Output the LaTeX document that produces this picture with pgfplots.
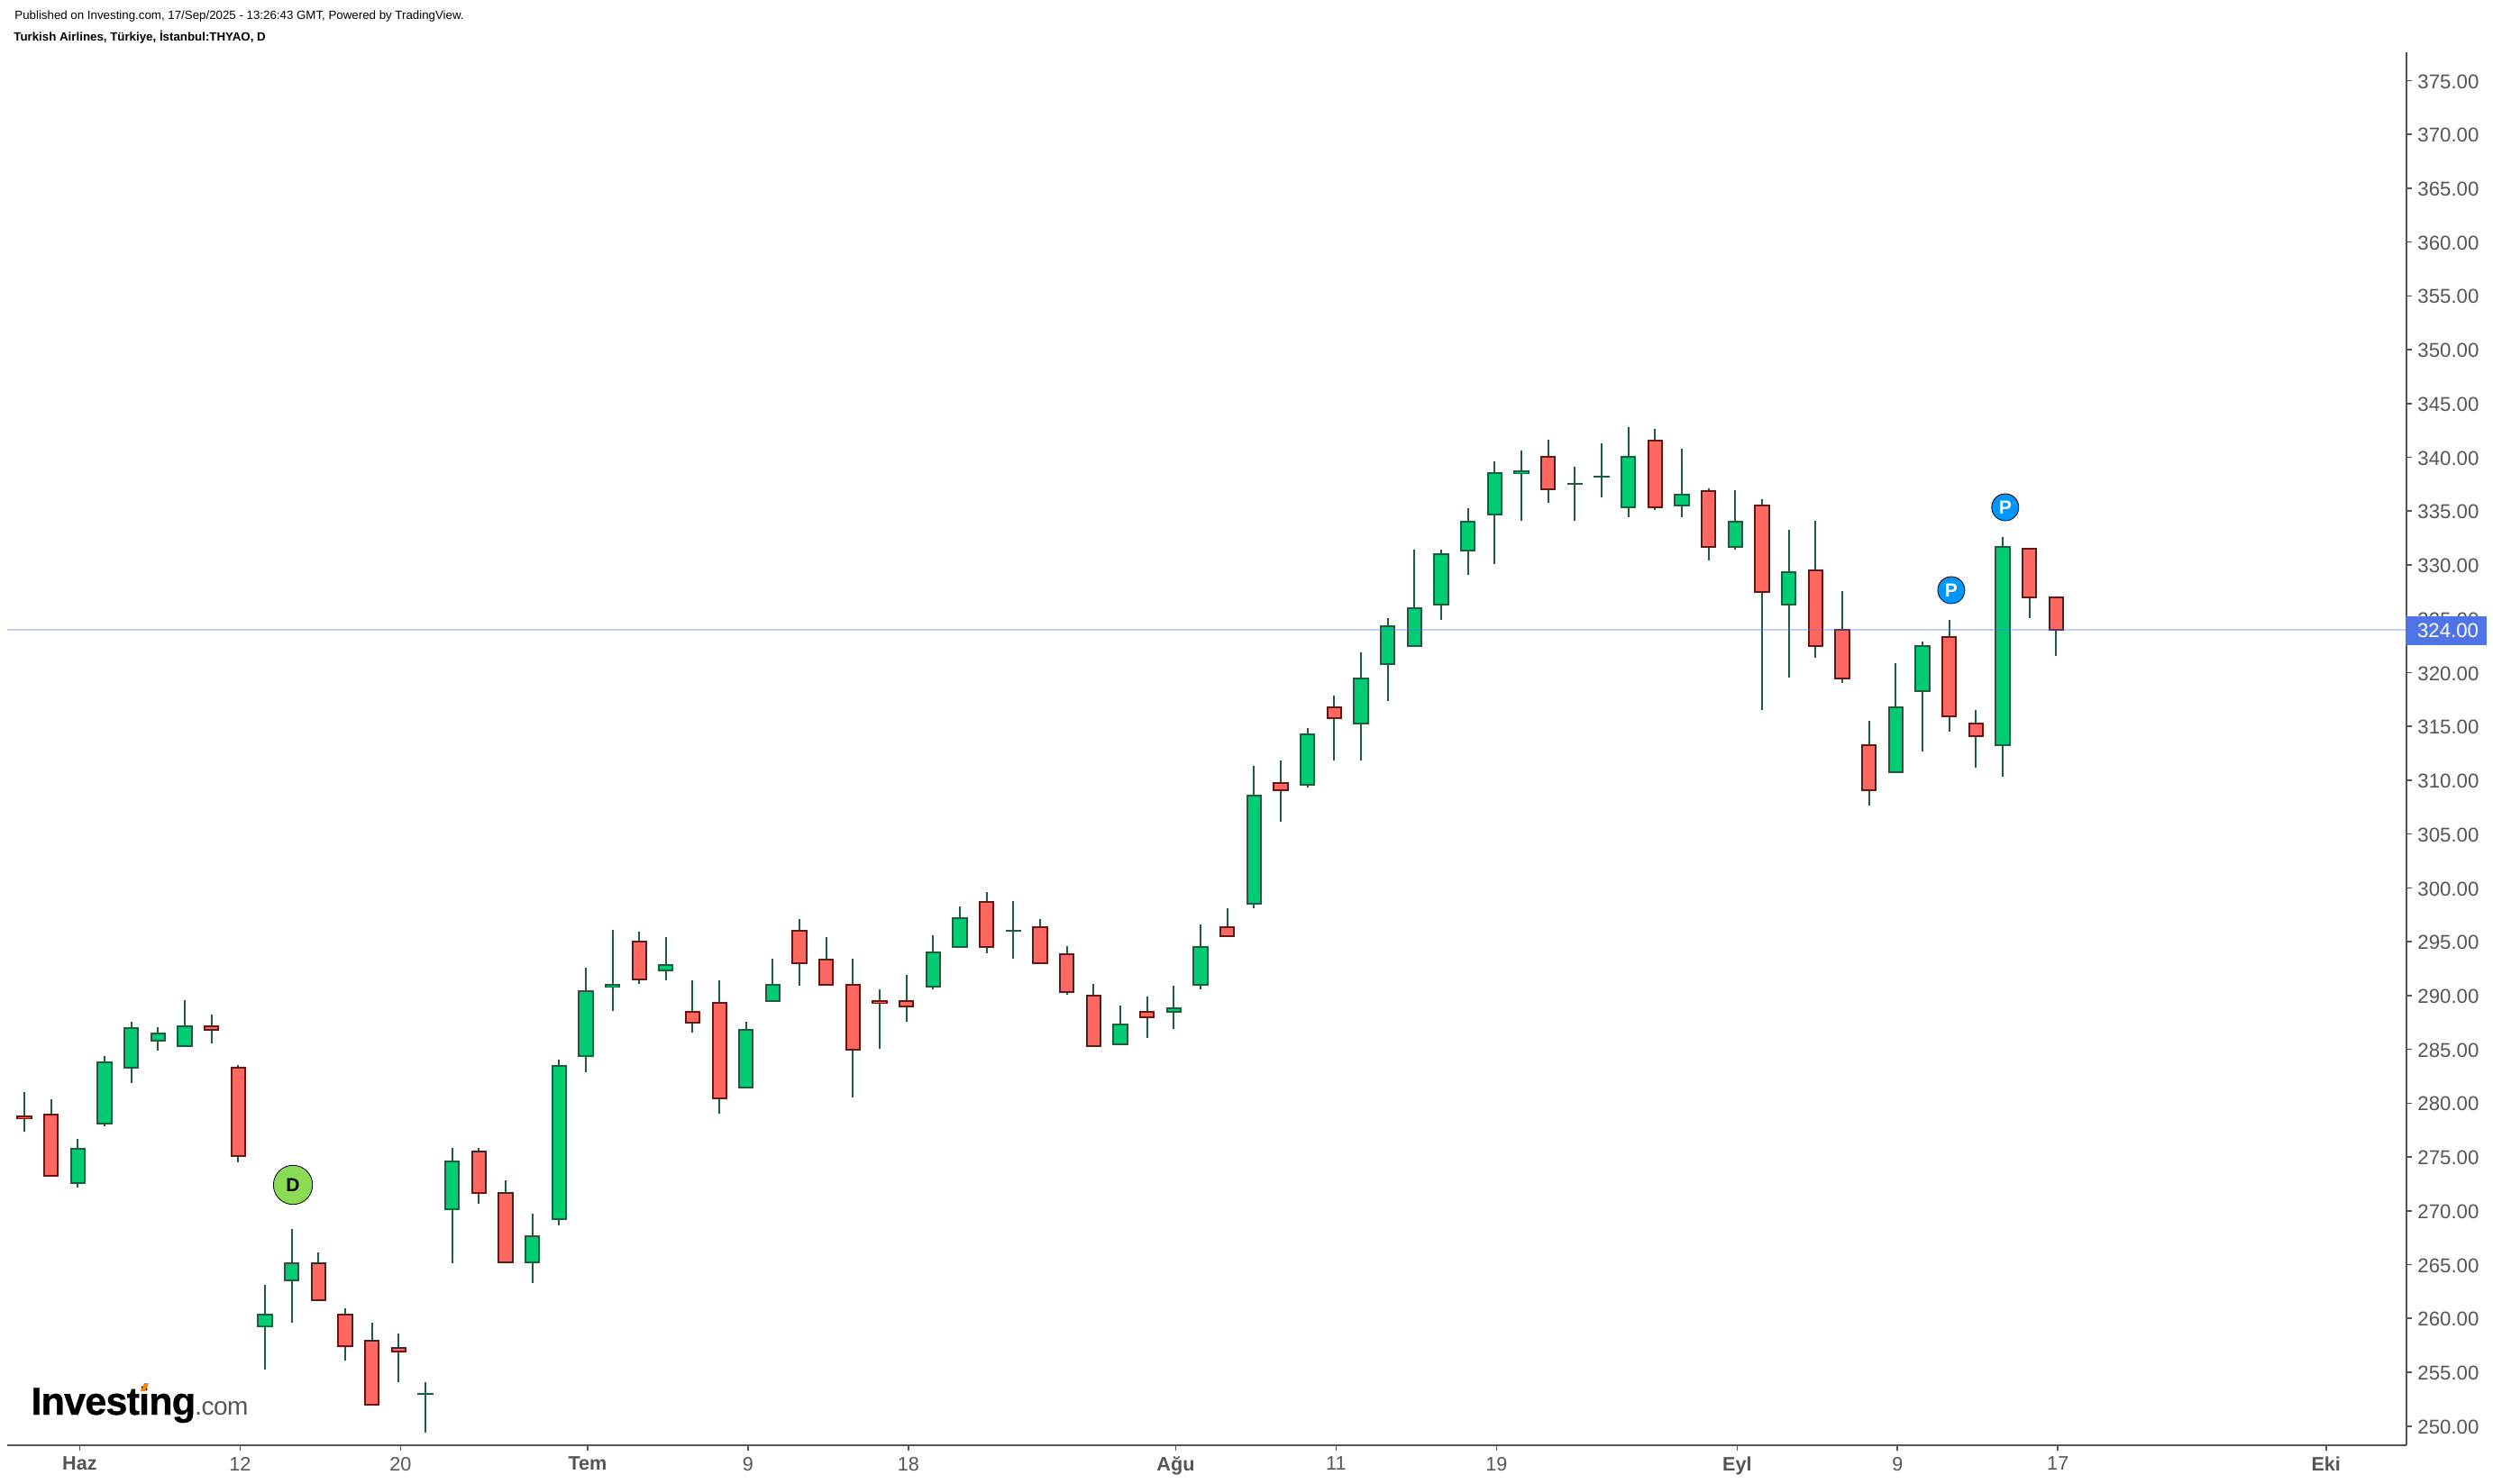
\documentclass[border=0pt]{standalone}
\usepackage{pgfplots}
\usepackage{pgfplotstable}
\pgfplotsset{compat=1.18}
\usepackage{fontspec}
\setmainfont{Liberation Sans}
\newfontfamily\logofont[LetterSpace=-2,BoldFeatures={FakeBold=0.7}]{Liberation Sans}
\definecolor{upfill}{HTML}{00CC74}
\definecolor{upline}{HTML}{1F5C3E}
\definecolor{downfill}{HTML}{FF6861}
\definecolor{downline}{HTML}{5E1A17}
\definecolor{axisgrey}{HTML}{555555}
\definecolor{pricebox}{HTML}{4F74E8}
\definecolor{dgreen}{HTML}{8BDB55}
\definecolor{pblue}{HTML}{0096FF}
\pgfplotstableread{
i bot top low high
2 272.60 275.73 272.16 276.68
3 278.13 283.76 277.85 284.38
4 283.32 286.94 281.87 287.56
5 285.83 286.44 284.88 287.06
6 285.33 287.11 285.33 289.56
9 259.24 260.32 255.23 263.09
10 263.57 265.16 259.59 268.31
15 253.00 253.00 249.41 254.06
16 270.12 274.55 265.16 275.82
19 265.25 267.67 263.28 269.77
20 269.26 283.42 268.63 284.03
21 284.35 290.45 282.88 292.59
22 290.83 291.00 288.56 296.10
24 292.36 292.80 291.41 295.43
27 281.48 286.78 281.48 287.56
28 289.51 290.96 289.51 293.42
34 290.85 293.98 290.57 295.59
35 294.53 297.16 294.53 298.27
37 296.04 296.04 293.42 298.77
41 285.49 287.28 285.49 289.06
43 288.45 288.84 286.89 290.91
44 291.02 294.48 290.57 296.60
46 298.55 308.54 298.11 311.33
48 309.60 314.24 309.33 314.85
50 315.30 319.43 311.84 321.88
51 320.82 324.28 317.36 325.06
52 322.49 325.95 322.49 331.42
53 326.35 330.98 324.89 331.42
54 331.37 333.99 329.08 335.28
55 334.72 338.51 330.09 339.63
56 338.53 338.70 334.10 340.63
58 337.54 337.54 334.11 339.13
59 338.21 338.21 336.28 341.31
60 335.39 340.02 334.44 342.82
62 335.56 336.51 334.44 340.81
64 331.71 334.00 331.43 336.95
66 326.35 329.31 319.54 333.27
70 310.78 316.75 310.78 320.88
71 318.32 322.45 312.68 322.89
74 313.30 331.65 310.34 332.60
}\uptable
\pgfplotstableread{
i bot top low high
0 278.60 278.77 277.35 281.03
1 273.27 278.91 273.27 280.36
7 286.83 287.11 285.55 288.23
8 275.11 283.26 274.50 283.54
11 261.72 265.16 261.72 266.11
12 257.39 260.32 256.09 260.93
13 252.02 257.97 252.02 259.59
14 256.89 257.30 254.12 258.57
17 271.62 275.53 270.66 275.82
18 265.25 271.68 265.25 272.80
23 291.52 294.98 291.07 295.93
25 287.50 288.45 286.55 291.41
26 280.47 289.29 279.02 291.41
29 293.03 295.98 290.91 297.10
30 291.00 293.31 291.00 295.43
31 284.99 290.96 280.53 293.42
32 289.31 289.48 285.05 290.57
33 289.01 289.45 287.56 291.91
36 294.53 298.66 293.92 299.61
38 293.03 296.32 293.03 297.10
39 290.35 293.81 290.07 294.59
40 285.33 289.96 285.33 291.07
42 288.00 288.45 286.05 289.90
45 295.54 296.32 295.54 298.11
47 309.10 309.72 306.14 311.84
49 315.80 316.75 311.84 317.86
57 337.07 340.02 335.78 341.64
61 335.39 341.53 335.11 342.65
63 331.71 336.84 330.42 337.12
65 327.52 335.50 316.53 336.12
67 322.50 329.48 321.39 334.11
68 319.49 323.95 319.04 327.58
69 309.11 313.24 307.66 315.53
72 315.97 323.28 314.52 324.90
73 314.13 315.25 311.17 316.53
75 327.02 331.49 325.07 331.49
76 324.00 326.97 321.55 326.97
}\downtable
% bars drawn as thick error bars: wick, outline, inner fill
\pgfplotsset{
  cbar/.style n args={2}{draw=none,mark=none,forget plot,
    error bars/.cd,y dir=plus,y explicit,error mark=none,
    error bar style={line width=#1,color=#2,solid}},
}
\newcommand\candles[3]{%
  \addplot[cbar={1pt}{upline}] table[x=i,y=low,y error plus expr={\thisrow{high}-\thisrow{low}}]{#1};
  \addplot[cbar={8.65pt}{#2}] table[x=i,y expr={\thisrow{bot}-0.084},y error plus expr={\thisrow{top}-\thisrow{bot}+0.168}]{#1};
  \addplot[cbar={6.65pt}{#3}] table[x=i,y expr={\thisrow{bot}+0.084},y error plus expr={max(\thisrow{top}-\thisrow{bot}-0.168,0)}]{#1};
}
\begin{document}
\begin{tikzpicture}
\path[use as bounding box] (0,0) rectangle (1383pt,823pt);
\begin{axis}[
  at={(4pt,21pt)},anchor=south west,
  scale only axis,width=1331pt,height=773pt,
  xmin=-0.64,xmax=89.11,ymin=248.22,ymax=377.63,
  axis y line*=right,axis x line*=bottom,
  axis line style={-,color=axisgrey,line width=1pt},
  tick style={color=axisgrey,line width=0.8pt},
  tickwidth=3pt,tick align=outside,
  minor tick num=0,
  xtick={2.07,8.07,14.07,21.07,27.07,33.07,43.07,49.07,55.07,64.07,70.07,76.07,86.1},
  xticklabels={\textbf{Haz},12,20,\textbf{Tem},9,18,\textbf{Ağu},11,19,\textbf{Eyl},9,17,\textbf{Eki}},
  x tick label style={font=\fontsize{10.8}{12}\selectfont,text=axisgrey},
  ytick={250,255,...,375},
  scaled y ticks=false,
  y tick label style={font=\fontsize{11.1}{12}\selectfont,text=axisgrey,xshift=-0.3pt,yshift=-0.5pt,
    /pgf/number format/fixed,/pgf/number format/fixed zerofill,
    /pgf/number format/precision=2,/pgf/number format/assume math mode=true},
]
\candles{\uptable}{upline}{upfill}
\candles{\downtable}{downline}{downfill}
\addplot[forget plot,line width=1pt,color=pricebox,opacity=0.35] coordinates {(-0.64,324)(89.11,324)};
\addplot[forget plot,only marks,mark=*,mark size=10.85pt,mark options={fill=dgreen,draw=none},
  nodes near coords={D},every node near coord/.style={anchor=center,text=black,font=\bfseries\fontsize{10.5}{12}\selectfont}]
  coordinates {(10.05,272.41)};
\addplot[forget plot,only marks,mark=*,mark size=7.5pt,mark options={fill=pblue,draw=none},
  nodes near coords={P},every node near coord/.style={anchor=center,text=white,font=\bfseries\fontsize{10.5}{12}\selectfont}]
  coordinates {(72.08,327.66)(74.1,335.36)};
\end{axis}
\begin{scope}[x=0.5pt,y=-0.5pt,yshift=823pt]
  \fill[pricebox] (2669,684) rectangle (2759,716);
  \node[anchor=center,text=white,font=\fontsize{11.1}{12}\selectfont,inner sep=0pt] at (2716,700) {324.00};
  \node[anchor=west,inner sep=0pt,text=black,font=\fontsize{6.65}{8}\selectfont] at (16,18) {Published on Investing.com, 17/Sep/2025 - 13:26:43 GMT, Powered by TradingView.};
  \node[anchor=west,inner sep=0pt,text=black,font=\bfseries\fontsize{6.65}{8}\selectfont] at (15,41) {Turkish Airlines, Türkiye, İstanbul:THYAO, D};
  \node[anchor=base west,inner sep=0pt,text=black,font=\logofont\bfseries\fontsize{21.6}{24}\selectfont] at (34,1570) {Investing};
  \node[anchor=base west,inner sep=0pt,text=axisgrey,font=\logofont\fontsize{14}{18}\selectfont] at (216,1570) {.com};
  \fill[orange] (156,1544) -- (160,1535) -- (165,1535) -- (161,1544) -- cycle;
\end{scope}
\end{tikzpicture}
\end{document}
